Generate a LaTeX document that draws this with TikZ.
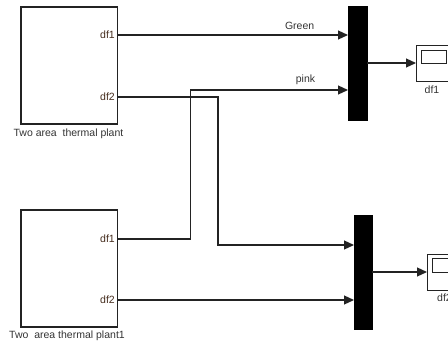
\documentclass[tikz,border=0pt]{standalone}
\usepackage{fontspec}
\setmainfont{Liberation Sans}
\usetikzlibrary{arrows.meta}
\definecolor{linec}{RGB}{35,35,35}
\definecolor{portc}{RGB}{70,45,30}
\begin{document}
\begin{tikzpicture}[x=1pt,y=-1pt,
  blk/.style={draw=linec,line width=1.2pt,fill=white},
  muxbar/.style={fill=black,draw=black},
  wire/.style={draw=linec,line width=1.2pt},
  arr/.style={wire,-{Triangle[length=10pt,width=9pt]}},
  lbl/.style={font=\fontsize{10.5}{12}\selectfont,text=black!80,inner sep=0pt},
  port/.style={font=\fontsize{10.5}{12}\selectfont,text=portc,inner sep=0pt,anchor=east}]
\useasboundingbox (0,0) rectangle (448,346);
% plant blocks
\draw[blk] (21,7) rectangle (117.5,124);
\draw[blk] (21,210) rectangle (117.5,327);
\node[port] (p1a) at (115,35) {df1};
\node[port] (p1b) at (115,97) {df2};
\node[port] (p2a) at (115,239) {df1};
\node[port] (p2b) at (115,300) {df2};
\coordinate (o1a) at (117.5,35);
\coordinate (o1b) at (117.5,97);
\coordinate (o2a) at (117.5,239);
\coordinate (o2b) at (117.5,300);
\node[lbl] (t1) at (68.5,134) {Two area\ \ thermal plant};
\node[lbl] (t2) at (67,336) {Two\ \ area thermal plant1};
% muxes
\node[muxbar,minimum width=19pt,minimum height=114pt,inner sep=0pt] (m1) at (357.5,63) {};
\node[muxbar,minimum width=18pt,minimum height=114pt,inner sep=0pt] (m2) at (363,272) {};
\coordinate (m1a) at (348,35);
\coordinate (m1b) at (348,90);
\coordinate (m2a) at (354,245);
\coordinate (m2b) at (354,300);
% scopes
\draw[wire,line width=0.9pt] (416,45) rectangle (452,81);
\draw[wire,line width=0.9pt] (421,50) rectangle (446,63);
\coordinate (s1) at (416,63);
\node[lbl] (sl1) at (432,90) {df1};
\draw[wire,line width=0.9pt] (427,254) rectangle (460,290);
\draw[wire,line width=0.9pt] (432,258) rectangle (456,272);
\coordinate (s2) at (427,272);
\node[lbl,anchor=west] (sl2) at (437,298) {df2};
% wires
\draw[arr] (o1a) -- (m1a) node[lbl,pos=0.79,above=5pt] {Green};
\draw[arr] (o2a) -- (190.7,239) -- (190.7,90) -- (m1b) node[lbl,pos=0.73,above=5pt] {pink};
\draw[arr] (o1b) -- (218,97) -- (218,245) -- (m2a);
\draw[arr] (o2b) -- (m2b);
\draw[arr] (m1.east |- s1) -- (s1);
\draw[arr] (m2.east |- s2) -- (s2);
\end{tikzpicture}
\end{document}
